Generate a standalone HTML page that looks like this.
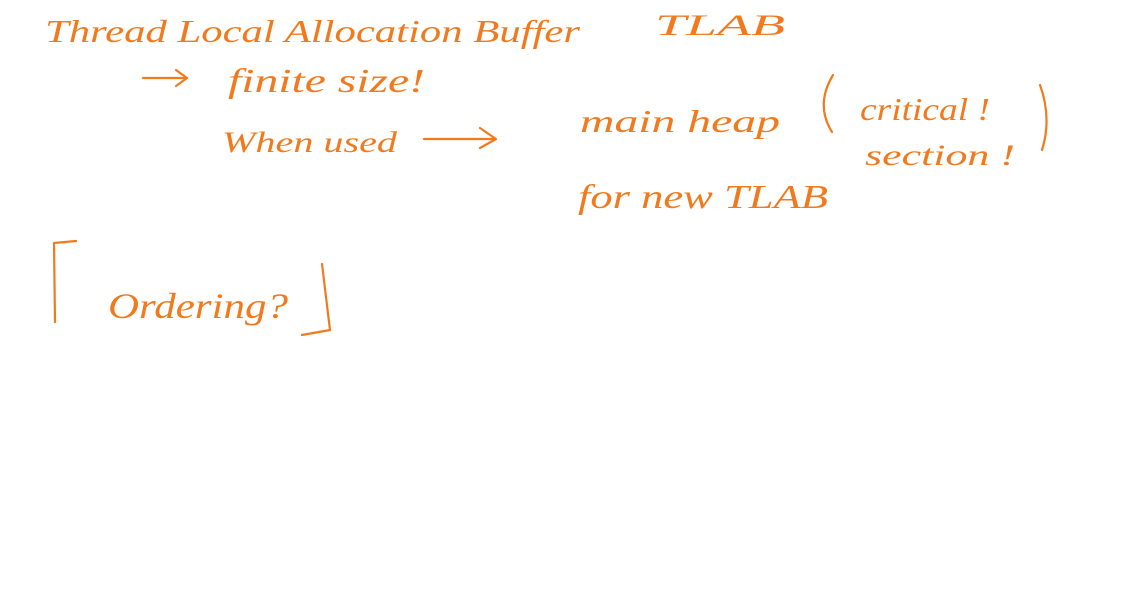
<!DOCTYPE html>
<html><head><meta charset="utf-8"><style>
html,body{margin:0;padding:0;background:#fff;}
svg{display:block;}
text{font-family:"Liberation Serif",serif;font-style:italic;fill:#f27a1e;}
</style></head><body>
<svg width="1139" height="595" viewBox="0 0 1139 595" xmlns="http://www.w3.org/2000/svg">
<g stroke="#f27a1e" stroke-width="2.2" fill="none" stroke-linecap="round" stroke-linejoin="round">
<!-- arrow 1 -->
<path d="M143 78 L186 78 M176 70 L187 78 L176 86"/>
<!-- arrow 2 -->
<path d="M424 139 L495 139 M480 128 L496 139 L480 148"/>
<!-- open bracket -->
<path d="M55 322 L54 243 L76 241"/>
<!-- close bracket -->
<path d="M322 264 L330 330 L302 335"/>
<!-- parens -->
<path d="M833 75 Q815 105 832 132"/>
<path d="M1040 85 Q1052 118 1042 150"/>
</g>
<text x="45" y="42" font-size="32" textLength="535" lengthAdjust="spacingAndGlyphs">Thread Local Allocation Buffer</text>
<text x="655" y="35" font-size="30" textLength="130" lengthAdjust="spacingAndGlyphs">TLAB</text>
<text x="228" y="92" font-size="34" textLength="197" lengthAdjust="spacingAndGlyphs">finite size!</text>
<text x="222" y="152" font-size="30" textLength="175" lengthAdjust="spacingAndGlyphs">When used</text>
<text x="580" y="132" font-size="32" textLength="200" lengthAdjust="spacingAndGlyphs">main heap</text>
<text x="860" y="120" font-size="32" textLength="130" lengthAdjust="spacingAndGlyphs">critical !</text>
<text x="865" y="165" font-size="30" textLength="150" lengthAdjust="spacingAndGlyphs">section !</text>
<text x="578" y="208" font-size="34" textLength="250" lengthAdjust="spacingAndGlyphs">for new TLAB</text>
<text x="108" y="318" font-size="36" textLength="180" lengthAdjust="spacingAndGlyphs">Ordering?</text>
</svg>
</body></html>
